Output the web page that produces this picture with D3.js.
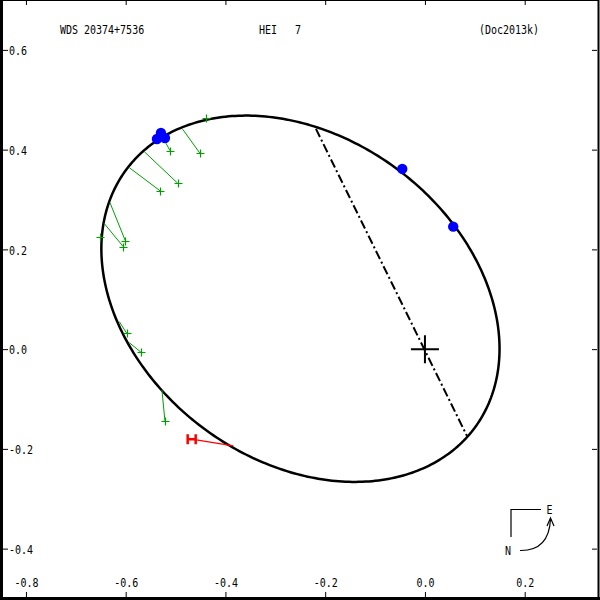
<!DOCTYPE html>
<html><head><meta charset="utf-8">
<script src="https://cdn.jsdelivr.net/npm/d3@7"></script>
<style>body{margin:0;background:#fff} svg{display:block}</style>
</head><body><svg id="c" width="600" height="600"></svg>
<script>
// ---- data ----
const titleTexts = ["WDS 20374+7536", "HEI   7", "(Doc2013k)"];
const xTicks = [-0.8, -0.6, -0.4, -0.2, 0.0, 0.2];
const yTicks = [-0.4, -0.2, 0.0, 0.2, 0.4, 0.6];
// apparent orbit ellipse: centre, semi-axes, tilt of major axis (deg)
const orbitCenter = [-0.2496, 0.101];
const orbitAxes = [0.4347, 0.3244];
const orbitTiltDeg = -36.5;
// line of nodes endpoints
const nodeLine = [[-0.2185, 0.4415], [0.0842, -0.1740]];
// green (micrometer) observations: [x, y] and predicted positions [x, y]
const greenObs = [[-0.4391, 0.4635], [-0.4511, 0.3926], [-0.5112, 0.3980], [-0.4958, 0.3326],
                  [-0.5307, 0.3172], [-0.6008, 0.2175], [-0.6049, 0.2055], [-0.6516, 0.2255],
                  [-0.5980, 0.0319], [-0.5694, -0.0062], [-0.5213, -0.1445]];
const greenPred = [[-0.4391, 0.4635], [-0.4858, 0.4409], [-0.5192, 0.4128], [-0.5628, 0.3960],
                   [-0.5928, 0.3639], [-0.6315, 0.2937], [-0.6435, 0.2524], [-0.6516, 0.2255],
                   [-0.6129, 0.0551], [-0.5928, 0.0130], [-0.5273, -0.0818]];
// red (Hipparcos) observation and prediction
const redObs = [[-0.4677, -0.1806]];
const redPred = [[-0.3843, -0.1941]];
// blue (speckle) observations
const blueObs = [[-0.5293, 0.4335], [-0.5373, 0.4214], [-0.5213, 0.4234], [-0.0455, 0.3613], [0.0567, 0.2456]];

// ---- drawing ----
const W = 600, H = 600;
const svg = d3.select("#c");
const x = d3.scaleLinear().domain([-0.852, 0.351]).range([0, 600]);
const y = d3.scaleLinear().domain([-0.503, 0.700]).range([600, 0]);
const FONT = "DejaVu Sans Mono";
const fmt = d => d.toFixed(1);

// frame
svg.append("rect").attr("x", 0.5).attr("y", 0.5).attr("width", 598).attr("height", 598)
  .attr("fill", "none").attr("stroke", "#000").attr("stroke-width", 1);
svg.append("line").attr("x1", 1.5).attr("x2", 1.5).attr("y1", 0).attr("y2", 600).attr("stroke", "#000").attr("stroke-width", 3);
svg.append("line").attr("x1", 0).attr("x2", 600).attr("y1", 598.5).attr("y2", 598.5).attr("stroke", "#000").attr("stroke-width", 3);
svg.append("line").attr("x1", 598.5).attr("x2", 598.5).attr("y1", 0).attr("y2", 600).attr("stroke", "#000").attr("stroke-width", 2);

// axes (ticks inward on all sides)
function styleAxis(g) {
  g.select(".domain").remove();
  g.selectAll(".tick line").attr("stroke", "#000").attr("stroke-width", 1);
}
const gb = svg.append("g").attr("transform", "translate(0,597)")
  .call(d3.axisBottom(x).tickValues(xTicks).tickSize(-5).tickFormat(fmt));
styleAxis(gb);
gb.selectAll(".tick text").remove();
gb.selectAll(".tick").append("text")
  .attr("transform", "translate(0,-10) scale(1,1.3)")
  .attr("text-anchor", "middle").attr("font-family", FONT).attr("font-size", 10).attr("fill", "#000")
  .text(d => fmt(d));
const gt = svg.append("g").attr("transform", "translate(0,0)")
  .call(d3.axisTop(x).tickValues(xTicks).tickSize(-5).tickFormat(""));
styleAxis(gt);
const gl = svg.append("g").attr("transform", "translate(3,0)")
  .call(d3.axisLeft(y).tickValues(yTicks).tickSize(-5).tickFormat(fmt));
styleAxis(gl);
gl.selectAll(".tick text").remove();
gl.selectAll(".tick").append("text")
  .attr("transform", "translate(6,4.7) scale(1,1.3)")
  .attr("text-anchor", "start").attr("font-family", FONT).attr("font-size", 10).attr("fill", "#000")
  .text(d => fmt(d));
const gr = svg.append("g").attr("transform", "translate(597,0)")
  .call(d3.axisRight(y).tickValues(yTicks).tickSize(-5).tickFormat(""));
styleAxis(gr);

// title
const titleX = [60, 259, 479];
titleTexts.forEach((t, i) => {
  svg.append("text").attr("transform", `translate(${titleX[i]},33.5) scale(1,1.3)`)
    .attr("font-family", FONT).attr("font-size", 10).attr("fill", "#000")
    .style("white-space", "pre").text(t);
});

// orbit ellipse
const phi = orbitTiltDeg * Math.PI / 180;
const ts = d3.range(0, 2 * Math.PI, Math.PI / 180);
const orbitPts = ts.map(t => {
  const ca = orbitAxes[0] * Math.cos(t), sb = orbitAxes[1] * Math.sin(t);
  return [orbitCenter[0] + ca * Math.cos(phi) - sb * Math.sin(phi),
          orbitCenter[1] + ca * Math.sin(phi) + sb * Math.cos(phi)];
});
svg.append("path").datum(orbitPts)
  .attr("d", d3.line().x(d => x(d[0])).y(d => y(d[1])).curve(d3.curveLinearClosed))
  .attr("fill", "none").attr("stroke", "#000").attr("stroke-width", 2.5);

// line of nodes
svg.append("line")
  .attr("x1", x(nodeLine[0][0])).attr("y1", y(nodeLine[0][1]))
  .attr("x2", x(nodeLine[1][0])).attr("y2", y(nodeLine[1][1]))
  .attr("stroke", "#000").attr("stroke-width", 2).attr("stroke-dasharray", "9,3,2,3");

// primary cross
svg.append("path")
  .attr("d", `M${x(0) - 14},${y(0)}H${x(0) + 14}M${x(0)},${y(0) - 14}V${y(0) + 14}`)
  .attr("stroke", "#000").attr("stroke-width", 2).attr("fill", "none");

// green O-C lines and markers
const green = "#00a000";
svg.append("g").selectAll("line").data(greenObs).join("line")
  .attr("x1", d => x(d[0])).attr("y1", d => y(d[1]))
  .attr("x2", (d, i) => x(greenPred[i][0])).attr("y2", (d, i) => y(greenPred[i][1]))
  .attr("stroke", green).attr("stroke-width", 1);
svg.append("g").selectAll("path").data(greenObs).join("path")
  .attr("d", d => { const px = Math.round(x(d[0])) + 0.5, py = Math.round(y(d[1])) + 0.5;
    return `M${px - 4},${py}H${px + 4}M${px},${py - 4}V${py + 4}`; })
  .attr("stroke", green).attr("stroke-width", 1.2).attr("fill", "none");

// red O-C line and H marker
svg.append("g").selectAll("line").data(redObs).join("line")
  .attr("x1", d => x(d[0])).attr("y1", d => y(d[1]))
  .attr("x2", (d, i) => x(redPred[i][0])).attr("y2", (d, i) => y(redPred[i][1]))
  .attr("stroke", "#ff0000").attr("stroke-width", 1.2);
svg.append("g").selectAll("path").data(redObs).join("path")
  .attr("d", d => { const px = x(d[0]), py = y(d[1]);
    return `M${px - 4},${py - 5}V${py + 5}M${px + 4},${py - 5}V${py + 5}M${px - 4},${py}H${px + 4}`; })
  .attr("stroke", "#ff0000").attr("stroke-width", 2.5).attr("fill", "none");

// blue speckle dots
svg.append("g").selectAll("circle").data(blueObs).join("circle")
  .attr("cx", d => x(d[0])).attr("cy", d => y(d[1])).attr("r", 5.2)
  .attr("fill", "#0000ff");

// compass (N / E)
const comp = svg.append("g").attr("fill", "none").attr("stroke", "#000").attr("stroke-width", 1.2);
comp.append("path").attr("d", "M511,537V509.5H541");
comp.append("path").attr("d", "M520,550.5Q549,551 550.5,519");
comp.append("path").attr("d", "M547,526L550.5,518L554,526");
svg.append("text").attr("transform", "translate(546.5,513.5) scale(1,1.3)")
  .attr("font-family", FONT).attr("font-size", 10).text("E");
svg.append("text").attr("transform", "translate(505,554.5) scale(1,1.3)")
  .attr("font-family", FONT).attr("font-size", 10).text("N");
</script></body></html>
